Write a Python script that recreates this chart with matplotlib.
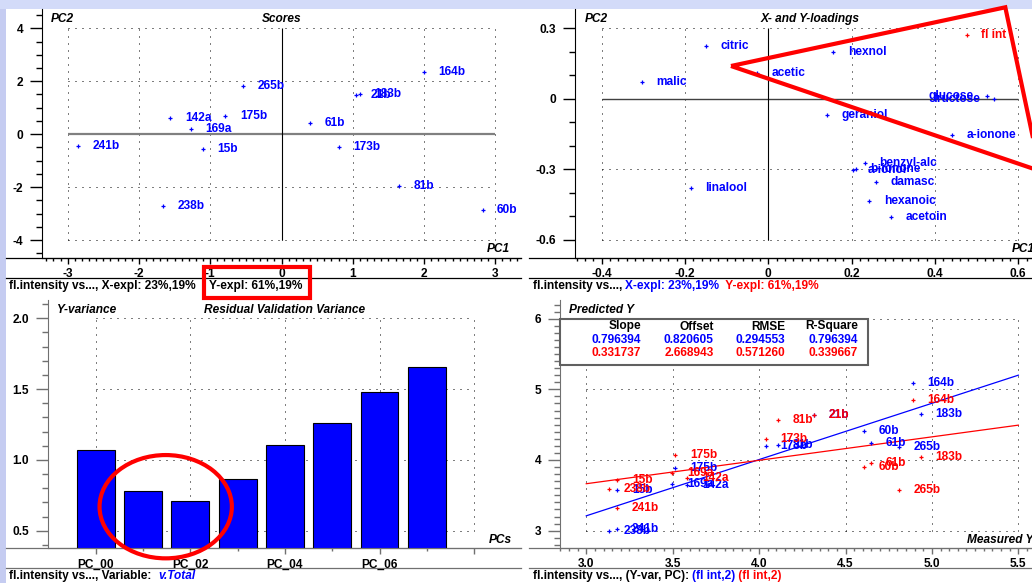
import matplotlib
matplotlib.use('Agg')
import matplotlib.pyplot as plt
from matplotlib.patches import Rectangle, Ellipse, Polygon
from matplotlib.ticker import MultipleLocator

plt.rcParams['font.family'] = ['Liberation Sans', 'DejaVu Sans']
plt.rcParams['font.weight'] = 'bold'
plt.rcParams['font.size'] = 8.6
plt.rcParams['axes.unicode_minus'] = False

W, H = 1032, 583
BLUE = '#0000ff'
RED = '#ff0000'
GRAY = '#707070'

# scores, PC1 vs PC2
score_names = ['164b', '265b', '21b', '183b', '142a', '175b', '169a', '61b',
               '241b', '15b', '173b', '81b', '238b', '60b']
score_pc1 = [2.00, -0.54, 1.04, 1.10, -1.56, -0.79, -1.27, 0.40,
             -2.85, -1.10, 0.80, 1.65, -1.66, 2.82]
score_pc2 = [2.34, 1.82, 1.48, 1.50, 0.62, 0.69, 0.18, 0.41,
             -0.45, -0.57, -0.48, -1.97, -2.71, -2.85]

# x-loadings and the y-loading
xload_names = ['citric', 'hexnol', 'malic', 'acetic', 'glucose', 'fructose',
               'geraniol', 'a-ionone', 'benzyl-alc', 'b-ionone', 'a-ionol',
               'damasc', 'hexanoic', 'acetoin', 'linalool']
xload_pc1 = [-0.149, 0.156, -0.303, -0.028, 0.526, 0.542, 0.141, 0.441,
             0.232, 0.210, 0.204, 0.258, 0.242, 0.294, -0.186]
xload_pc2 = [0.223, 0.201, 0.070, 0.111, 0.014, 0.000, -0.068, -0.156,
             -0.271, -0.297, -0.302, -0.353, -0.433, -0.502, -0.380]
yload_names = ['fl int']
yload_pc1 = [0.476]
yload_pc2 = [0.270]
left_labels = ['glucose', 'fructose']   # these get pushed left of the point

# residual validation variance
pcs = [0, 1, 2, 3, 4, 5, 6, 7]
res_var = [1.072, 0.778, 0.707, 0.867, 1.103, 1.263, 1.480, 1.659]
pc_ticks = [0, 2, 4, 6, 8]
pc_ticklabels = ['PC_00', 'PC_02', 'PC_04', 'PC_06', '']

# predicted vs measured, calibration (blue) and validation (red)
samples = ['238b', '15b', '241b', '169a', '175b', '142a', '173b', '81b',
           '21b', '60b', '61b', '265b', '164b', '183b']
measured = [3.133, 3.18, 3.18, 3.498, 3.515, 3.585, 4.038, 4.112,
            4.317, 4.607, 4.649, 4.808, 4.890, 4.935]
pred_cal = [3.00, 3.576, 3.02, 3.657, 3.89, 3.647, 4.20, 4.21,
            4.633, 4.41, 4.236, 4.18, 5.086, 4.656]
pred_val = [3.586, 3.71, 3.32, 3.82, 4.07, 3.75, 4.30, 4.567,
            4.633, 3.90, 3.954, 3.576, 4.845, 4.043]
stat_names = ['Slope', 'Offset', 'RMSE', 'R-Square']
stats_cal = [0.796394, 0.820605, 0.294553, 0.796394]
stats_val = [0.331737, 2.668943, 0.571260, 0.339667]

score_xt = [-3, -2, -1, 0, 1, 2, 3]
score_yt = [-4, -2, 0, 2, 4]
load_xt = [-0.4, -0.2, 0, 0.2, 0.4, 0.6]
load_xtl = ['-0.4', '-0.2', '0', '0.2', '0.4', '0.6']
load_yt = [-0.6, -0.3, 0, 0.3]
load_ytl = ['-0.6', '-0.3', '0', '0.3']
var_yt = [0.5, 1.0, 1.5, 2.0]
pred_xt = [3.0, 3.5, 4.0, 4.5, 5.0, 5.5]
pred_yt = [3, 4, 5, 6]


def box(l, t, r, b):
    return [l / W, 1 - b / H, (r - l) / W, (b - t) / H]


def setup(ax, xlim, ylim, ink):
    ax.set_xlim(*xlim)
    ax.set_ylim(*ylim)
    ax.set_facecolor('none')
    ax.spines['top'].set_visible(False)
    ax.spines['right'].set_visible(False)
    ax.spines['left'].set_color(ink)
    ax.spines['bottom'].set_color(ink)
    ax.tick_params(axis='y', which='major', length=8.6, width=1, color=ink, pad=5)
    ax.tick_params(axis='y', which='minor', length=4.3, width=1, color=ink)
    ax.tick_params(axis='x', which='major', length=4.3, width=1, color=ink, pad=3)
    ax.tick_params(axis='x', which='minor', length=2.3, width=1, color=ink)


def dotted_grid(ax, xs, ys):
    ax.vlines(xs, min(ys), max(ys), colors='black', linestyles=(0, (1, 6)),
              linewidth=0.72, zorder=0)
    ax.hlines(ys, min(xs), max(xs), colors='black', linestyles=(0, (1, 6)),
              linewidth=0.72, zorder=0)


def point_labels(ax, xs, ys, names, color, left=()):
    ax.plot(xs, ys, '+', color=color, ms=3, mew=0.9, zorder=3)
    for x, y, s in zip(xs, ys, names):
        if s in left:
            ax.annotate(s, (x, y), xytext=(-10, 0), textcoords='offset points',
                        ha='right', va='center', color=color, zorder=4)
        else:
            ax.annotate(s, (x, y), xytext=(10.5, 0), textcoords='offset points',
                        ha='left', va='center', color=color, zorder=4,
                        annotation_clip=False)


def chain(ax, x, y, parts):
    t = None
    for s, c, style in parts:
        if t is None:
            t = ax.text(x, y, s, color=c, fontstyle=style, ha='left', va='center')
        else:
            t = ax.annotate(s, xy=(1, 0.5), xycoords=t, color=c, fontstyle=style,
                            ha='left', va='center')


fig = plt.figure(figsize=(W / 100, H / 100), dpi=100)

# window background and panel rules
bg = fig.add_axes([0, 0, 1, 1], zorder=-1)
bg.set_xlim(0, W)
bg.set_ylim(H, 0)
bg.axis('off')
bg.add_patch(Rectangle((0, 0), W, 9, color='#d3dbf9', lw=0))
bg.add_patch(Rectangle((0, 9), 6, H - 9, color='#c5ccf1', lw=0))
for y in (258, 278):
    bg.plot([6, 521], [y, y], color='black', lw=0.9)
    bg.plot([529, W], [y, y], color='black', lw=0.9)
for y in (548.3, 568.3):
    bg.plot([6, 521], [y, y], color=GRAY, lw=0.9)
    bg.plot([529, W], [y, y], color=GRAY, lw=0.9)

# scores
ax1 = fig.add_axes(box(42, 9, 521, 258))
setup(ax1, (-3.36, 3.36), (-4.68, 4.73), 'black')
dotted_grid(ax1, score_xt, score_yt)
ax1.hlines(0, -3, 3, color='#808080', lw=1.6, zorder=1)
ax1.vlines(0, -4, 4, color='black', lw=0.8, zorder=1)
point_labels(ax1, score_pc1, score_pc2, score_names, BLUE)
ax1.set_xticks(score_xt)
ax1.set_xticklabels([str(v) for v in score_xt])
ax1.set_yticks(score_yt)
ax1.set_yticklabels([str(v) for v in score_yt])
ax1.xaxis.set_minor_locator(MultipleLocator(0.1))
ax1.yaxis.set_minor_locator(MultipleLocator(0.5))

# loadings
ax2 = fig.add_axes(box(575.3, 9, W, 258))
setup(ax2, (-0.463, 0.633), (-0.677, 0.382), 'black')
dotted_grid(ax2, load_xt, load_yt)
ax2.hlines(0, -0.4, 0.6, color='#404040', lw=1.0, zorder=1)
ax2.vlines(0, -0.6, 0.3, color='black', lw=0.8, zorder=1)
point_labels(ax2, xload_pc1, xload_pc2, xload_names, BLUE, left=left_labels)
point_labels(ax2, yload_pc1, yload_pc2, yload_names, RED)
ax2.set_xticks(load_xt)
ax2.set_xticklabels(load_xtl)
ax2.set_yticks(load_yt)
ax2.set_yticklabels(load_ytl)
ax2.xaxis.set_minor_locator(MultipleLocator(0.02))
ax2.yaxis.set_minor_locator(MultipleLocator(0.1))

# residual validation variance
ax3 = fig.add_axes(box(48, 300, 521, 548.3))
setup(ax3, (-1.01, 8.99), (0.376, 2.129), GRAY)
dotted_grid(ax3, pc_ticks, var_yt)
ax3.bar(pcs, res_var, width=0.8, color=BLUE, edgecolor='black', linewidth=0.8, zorder=2)
ax3.set_xticks(pc_ticks)
ax3.set_xticklabels(pc_ticklabels)
ax3.set_xticks([1, 3, 5, 7], minor=True)
ax3.set_yticks(var_yt)
ax3.set_yticklabels(['%.1f' % v for v in var_yt])
ax3.yaxis.set_minor_locator(MultipleLocator(0.1))

# predicted vs measured
ax4 = fig.add_axes(box(560, 300, W, 548.3))
setup(ax4, (2.848, 5.579), (2.75, 6.265), GRAY)
dotted_grid(ax4, pred_xt, pred_yt)
fit_x = [pred_xt[0], pred_xt[-1]]
ax4.plot(fit_x, [stats_cal[0] * x + stats_cal[1] for x in fit_x], color=BLUE, lw=0.9, zorder=2)
ax4.plot(fit_x, [stats_val[0] * x + stats_val[1] for x in fit_x], color=RED, lw=0.9, zorder=2)
point_labels(ax4, measured, pred_cal, samples, BLUE)
point_labels(ax4, measured, pred_val, samples, RED)
ax4.set_xticks(pred_xt)
ax4.set_xticklabels(['%.1f' % v for v in pred_xt])
ax4.set_yticks(pred_yt)
ax4.set_yticklabels([str(v) for v in pred_yt])
ax4.xaxis.set_minor_locator(MultipleLocator(0.05))
ax4.yaxis.set_minor_locator(MultipleLocator(0.1))

# titles, statistics box, footers and markup on top
ov = fig.add_axes([0, 0, 1, 1], zorder=10)
ov.set_xlim(0, W)
ov.set_ylim(H, 0)
ov.axis('off')

ital = dict(fontstyle='italic', va='center')
ov.text(51, 19, 'PC2', ha='left', **ital)
ov.text(282, 19, 'Scores', ha='center', **ital)
ov.text(510, 249, 'PC1', ha='right', **ital)
ov.text(585, 19, 'PC2', ha='left', **ital)
ov.text(810, 19, 'X- and Y-loadings', ha='center', **ital)
ov.text(1012, 249, 'PC1', ha='left', **ital)
ov.text(57, 310, 'Y-variance', ha='left', **ital)
ov.text(285, 310, 'Residual Validation Variance', ha='center', **ital)
ov.text(489, 540, 'PCs', ha='left', **ital)
ov.text(569, 310, 'Predicted Y', ha='left', **ital)
ov.text(967, 540, 'Measured Y', ha='left', **ital)

ov.add_patch(Rectangle((560, 318.7), 308.3, 46.3, fc='white', ec='#606060', lw=1.5))
col_x = [641, 713.7, 785.3, 857.7]
for cx, name, c1, c2 in zip(col_x, stat_names, stats_cal, stats_val):
    ov.text(cx, 326.5, name, ha='right', va='center', color='black')
    ov.text(cx, 340, '%.6f' % c1, ha='right', va='center', color=BLUE)
    ov.text(cx, 353.3, '%.6f' % c2, ha='right', va='center', color=RED)

ov.text(9, 285.5, 'fl.intensity vs..., X-expl: 23%,19%', ha='left', va='center')
ov.text(209, 285.5, 'Y-expl: 61%,19%', ha='left', va='center')
chain(ov, 532.7, 285.5, [('fl.intensity vs..., ', 'black', 'normal'),
                         ('X-expl: 23%,19%', BLUE, 'normal'),
                         ('  Y-expl: 61%,19%', RED, 'normal')])
chain(ov, 9, 576, [('fl.intensity vs..., Variable:  ', 'black', 'normal'),
                   ('v.Total', BLUE, 'italic')])
chain(ov, 532.7, 576, [('fl.intensity vs..., (Y-var, PC): ', 'black', 'normal'),
                       ('(fl int,2)', BLUE, 'normal'),
                       (' (fl int,2)', RED, 'normal')])

ov.add_patch(Rectangle((204, 266.5), 106, 31.5, fill=False, ec=RED, lw=3))
ov.add_patch(Polygon([(731, 66), (1005.3, 7.3), (1040, 171)], closed=True,
                     fill=False, ec=RED, lw=3, joinstyle='miter'))
ov.add_patch(Ellipse((165.7, 506.7), 132.3, 103.3, fill=False, ec=RED, lw=3))

fig.savefig('out.png', dpi=100)
